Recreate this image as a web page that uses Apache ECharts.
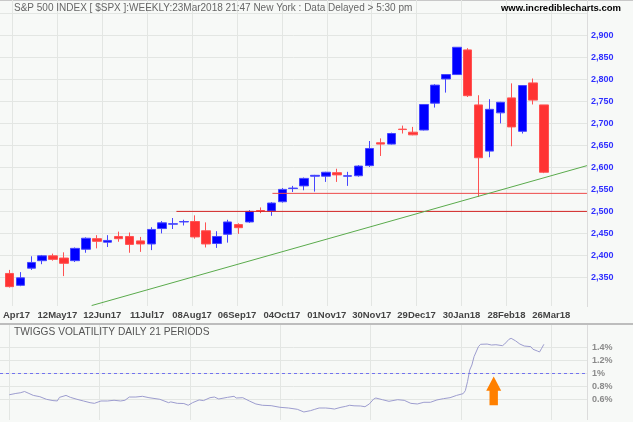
<!DOCTYPE html>
<html>
<head>
<meta charset="utf-8">
<script src="https://cdn.jsdelivr.net/npm/echarts@6/dist/echarts.min.js"></script>
<style>
html,body{margin:0;padding:0;background:#f7f9f7;}
#chart{width:633px;height:422px;}
</style>
</head>
<body>
<div id="chart"></div>
<script>
// ---- Data ----
const dateLabels = ['Apr17','12May17','12Jun17','11Jul17','08Aug17','06Sep17','04Oct17','01Nov17','30Nov17','29Dec17','30Jan18','28Feb18','26Mar18'];

// weekly candles: index 0 = week ending 13 Apr 2017 ... 49 = week ending 23 Mar 2018
const opens  = [2359,2332,2371,2388,2399,2394,2388,2414,2438,2430,2443,2443,2433,2426,2461,2471,2476,2477,2456,2427,2448,2470,2476,2502,2501,2522,2552,2558,2580,2580,2588,2580,2581,2604,2656,2653,2687,2680,2685,2746,2801,2811,2867,2742,2637,2724,2758,2682,2792,2742];
const closes = [2329,2349,2384,2399,2391,2382,2416,2439,2432,2434,2438,2425,2426,2459,2474,2472,2477,2442,2426,2443,2476,2463,2500,2501,2519,2550,2553,2575,2582,2589,2583,2581,2603,2643,2653,2677,2686,2674,2743,2787,2811,2873,2763,2622,2732,2748,2692,2786,2753,2589];
const lows   = [2327,2330,2367,2380,2388,2353,2385,2406,2416,2419,2431,2406,2408,2412,2450,2460,2468,2438,2418,2417,2429,2449,2474,2496,2490,2520,2544,2548,2545,2567,2567,2558,2579,2601,2626,2652,2677,2673,2684,2736,2770,2810,2760,2533,2623,2700,2648,2677,2743,2587];
const highs  = [2367,2362,2398,2401,2404,2407,2418,2441,2446,2446,2454,2452,2442,2464,2478,2485,2481,2491,2475,2455,2481,2473,2503,2509,2521,2553,2558,2577,2583,2590,2597,2590,2605,2660,2666,2679,2695,2692,2744,2789,2812,2873,2871,2764,2755,2749,2791,2787,2802,2742];

// annotation lines (week index, price)
const supportLines = [
  {from: 15.3, to: 52.93, price: 2500, color: '#d42424'},
  {from: 24.1, to: 52.93, price: 2541, color: '#ee4a4a'}
];
const trendLine = [[7.53, 2286], [52.93, 2604]];

// Twiggs volatility (daily, trading-day index)
const volDays = [0,3,5,7,9,11,14,17,20,22,23,26,28,31,34,37,39,42,45,48,51,53,55,58,61,64,69,73,74,77,80,82,84,87,89,92,94,96,100,103,104,107,110,113,116,120,124,128,132,135,138,140,142,145,147,149,152,154,156,158,161,163,165,167,168,171,174,178,181,184,187,190,193,196,199,202,205,208,209,210,211,212,213,215,216,219,221,223,226,227,229,230,232,234,236,239,240,242,243,244,245];
const volValues = [0.67,0.69,0.70,0.72,0.69,0.66,0.64,0.60,0.58,0.575,0.63,0.66,0.63,0.60,0.574,0.548,0.538,0.574,0.574,0.585,0.574,0.585,0.635,0.635,0.646,0.625,0.60,0.548,0.56,0.538,0.535,0.508,0.548,0.59,0.58,0.625,0.635,0.605,0.63,0.646,0.62,0.625,0.574,0.528,0.508,0.502,0.477,0.466,0.446,0.405,0.425,0.446,0.466,0.466,0.46,0.45,0.477,0.49,0.508,0.50,0.497,0.486,0.528,0.605,0.62,0.594,0.569,0.594,0.584,0.538,0.528,0.554,0.554,0.59,0.61,0.625,0.66,0.687,0.733,0.871,1.05,1.128,1.256,1.41,1.446,1.45,1.435,1.44,1.425,1.45,1.523,1.538,1.50,1.45,1.42,1.41,1.37,1.343,1.328,1.385,1.446];
const volReference = 1;
const volArrow = [[222, 0.95, 0.51]];

const priceTicks = {min: 2300, max: 2950, step: 50};
const volTicks = {min: 0.6, max: 1.4, step: 0.2};

// ---- Chart ----
const FONT = "'Liberation Sans', Arial, sans-serif";
const GRID_LINE = '#e3e6e3';
const chart = echarts.init(document.getElementById('chart'), null, {renderer: 'canvas'});

const candleData = opens.map((o, i) => [i, o, closes[i], lows[i], highs[i]]);
const volData = volDays.map((d, i) => [d, volValues[i]]);

const option = {
  backgroundColor: '#f7f9f7',
  animation: false,
  title: [
    {text: 'S&P 500 INDEX [ $SPX ]:WEEKLY:23Mar2018 21:47 New York : Data Delayed > 5:30 pm',
     left: 14, top: 3, padding: 0,
     textStyle: {fontSize: 10, color: '#666', fontWeight: 'normal', fontFamily: FONT}},
    {text: 'www.incrediblecharts.com', right: 12, top: 3, padding: 0,
     textStyle: {fontSize: 9.5, color: '#000', fontWeight: 'bold', fontFamily: FONT}},
    {text: 'TWIGGS VOLATILITY DAILY 21 PERIODS', left: 14, top: 327, padding: 0,
     textStyle: {fontSize: 10.2, color: '#555', fontWeight: 'normal', fontFamily: FONT}}
  ],
  grid: [
    {left: 9.3, top: 0, width: 542, height: 306},
    {left: 0, top: 13.4, width: 587, height: 286},
    {left: 9.3, top: 325, width: 542, height: 95},
    {left: 0, top: 347.3, width: 587, height: 52}
  ],
  xAxis: [
    {gridIndex: 0, type: 'category', data: dateLabels, boundaryGap: false,
     axisLine: {show: false}, axisTick: {show: false},
     splitLine: {show: true, lineStyle: {color: GRID_LINE, width: 1}},
     axisLabel: {interval: 0, margin: 4, fontSize: 9.5, fontWeight: 'bold', color: '#444', fontFamily: FONT,
       hideOverlap: false,
       formatter: (v, i) => i === 0 ? '{f|' + v + '}' : v,
       rich: {f: {padding: [0, 0, 0, 8], fontSize: 9.5, fontWeight: 'bold', color: '#444', fontFamily: FONT}}}},
    {gridIndex: 1, type: 'value', min: -0.8708, max: 52.933, show: false},
    {gridIndex: 2, type: 'category', data: dateLabels, boundaryGap: false,
     axisLine: {show: false}, axisTick: {show: false}, axisLabel: {show: false},
     splitLine: {show: true, lineStyle: {color: GRID_LINE, width: 1}}},
    {gridIndex: 3, type: 'value', min: -4.262, max: 264.76, show: false}
  ],
  yAxis: [
    {gridIndex: 0, type: 'value', show: false},
    {gridIndex: 1, type: 'value', position: 'right', min: priceTicks.min, max: priceTicks.max, interval: priceTicks.step,
     axisLine: {show: false}, axisTick: {show: false},
     splitLine: {show: true, showMinLine: false, lineStyle: {color: GRID_LINE, width: 1}},
     axisLabel: {margin: 4, fontSize: 9, fontWeight: 'bold', color: '#2f2fff', fontFamily: FONT,
       showMinLabel: false, showMaxLabel: false,
       formatter: v => v.toLocaleString('en-US')}},
    {gridIndex: 2, type: 'value', show: false},
    {gridIndex: 3, type: 'value', position: 'right', min: volTicks.min, max: volTicks.max, interval: volTicks.step,
     axisLine: {show: false}, axisTick: {show: false},
     splitLine: {show: true, lineStyle: {color: GRID_LINE, width: 1}},
     axisLabel: {margin: 5, fontSize: 9, fontWeight: 'bold', color: '#8a8a8a', fontFamily: FONT,
       formatter: v => (+v.toFixed(1)) + '%'}}
  ],
  series: [
    {type: 'candlestick', xAxisIndex: 1, yAxisIndex: 1, data: candleData,
     encode: {x: 0, y: [1, 2, 3, 4]}, barWidth: 9, z: 3,
     itemStyle: {color: '#0000ff', color0: '#ff3333', borderColor: '#4646ff', borderColor0: '#ff5252', borderWidth: 1}},
    ...supportLines.map(s => ({
      type: 'line', xAxisIndex: 1, yAxisIndex: 1, symbol: 'none', z: 4, clip: false,
      data: [[s.from, s.price], [s.to, s.price]],
      lineStyle: {color: s.color, width: 1}
    })),
    {type: 'line', xAxisIndex: 1, yAxisIndex: 1, symbol: 'none', z: 4, clip: false,
     data: trendLine, lineStyle: {color: '#5aab4c', width: 1}},
    {type: 'line', xAxisIndex: 3, yAxisIndex: 3, symbol: 'none', clip: false, z: 3,
     data: volData, lineStyle: {color: '#9d9dcf', width: 1},
     markLine: {silent: true, symbol: 'none', label: {show: false},
       lineStyle: {color: '#7373f0', type: [3, 3], width: 1},
       data: [{yAxis: volReference}]}},
    {type: 'custom', xAxisIndex: 3, yAxisIndex: 3, data: volArrow, z: 5, clip: false,
     renderItem: (params, api) => {
       const tip = api.coord([api.value(0), api.value(1)]);
       const base = api.coord([api.value(0), api.value(2)]);
       const hw = 7.5, sw = 4.2, hh = 14.3;
       return {type: 'polygon', shape: {points: [
         [tip[0], tip[1]], [tip[0] + hw, tip[1] + hh], [tip[0] + sw, tip[1] + hh],
         [tip[0] + sw, base[1]], [tip[0] - sw, base[1]], [tip[0] - sw, tip[1] + hh],
         [tip[0] - hw, tip[1] + hh]]},
         style: {fill: '#ff8000'}};
     }}
  ],
  graphic: [
    {type: 'line', shape: {x1: 0, y1: 0.5, x2: 633, y2: 0.5}, style: {stroke: '#c8c8c8', lineWidth: 1}, silent: true},
    {type: 'line', shape: {x1: 587.5, y1: 0, x2: 587.5, y2: 307}, style: {stroke: '#dcdcdc', lineWidth: 1}, silent: true},
    {type: 'line', shape: {x1: 0, y1: 324, x2: 633, y2: 324}, style: {stroke: '#bdbdbd', lineWidth: 2}, silent: true},
    {type: 'line', shape: {x1: 587.5, y1: 325, x2: 587.5, y2: 420}, style: {stroke: '#dcdcdc', lineWidth: 1}, silent: true}
  ]
};
chart.setOption(option);
</script>
</body>
</html>
